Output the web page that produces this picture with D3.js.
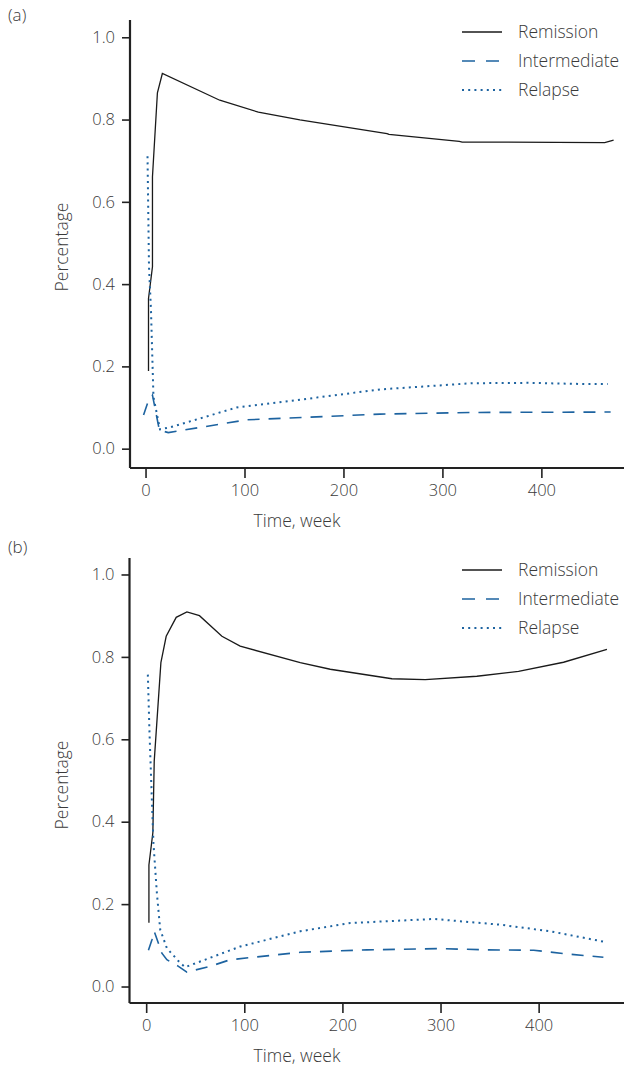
<html>
<head>
<meta charset="utf-8">
<script src="https://cdn.jsdelivr.net/npm/d3@7"></script>
<style>
  body { margin: 0; background: #fff; }
  text { font-family: "Open Sans", "Noto Sans", sans-serif; font-weight: 300; fill: #3a3a3a; }
</style>
</head>
<body>
<svg width="624" height="1068"></svg>
<script>
// series names and tick labels
var seriesNames = ["Remission", "Intermediate", "Relapse"];
var xTicks = [0, 100, 200, 300, 400];
var yTicks = [0.0, 0.2, 0.4, 0.6, 0.8, 1.0];

// panel (a)
var aRemT = [3, 3, 7, 7, 12, 17, 75, 114, 156, 244, 246, 317, 320, 366, 464, 473];
var aRemV = [0.189, 0.365, 0.442, 0.661, 0.865, 0.912, 0.847, 0.818, 0.799, 0.766, 0.764, 0.747, 0.745, 0.745, 0.744, 0.750];
var aIntT = [-2, 2, 7, 14, 23, 102, 237, 329, 470];
var aIntV = [0.082, 0.110, 0.130, 0.045, 0.039, 0.070, 0.084, 0.088, 0.089];
var aRelT = [2, 3.5, 5.5, 8, 14.6, 25, 92, 153, 237, 329, 386, 446, 467];
var aRelV = [0.711, 0.442, 0.337, 0.126, 0.047, 0.052, 0.100, 0.118, 0.144, 0.159, 0.160, 0.157, 0.157];

// panel (b)
var bRemT = [2.8, 2.8, 6.8, 8.2, 15, 20.4, 30.6, 41.5, 54.3, 77.2, 95.8, 157, 187.6, 250.5, 284.4, 337, 379.5, 425.4, 469.6];
var bRemV = [0.155, 0.295, 0.373, 0.547, 0.786, 0.850, 0.896, 0.909, 0.900, 0.850, 0.826, 0.786, 0.770, 0.747, 0.745, 0.753, 0.765, 0.787, 0.818];
var bIntT = [2.3, 5.8, 8.2, 16, 21.1, 32.9, 41.5, 65.2, 85.6, 157, 225, 299.7, 347, 395, 429, 466];
var bIntV = [0.088, 0.113, 0.134, 0.081, 0.065, 0.049, 0.035, 0.049, 0.065, 0.083, 0.089, 0.092, 0.089, 0.088, 0.079, 0.071];
var bRelT = [1.7, 3.4, 5.8, 7.4, 10.9, 14.3, 21.1, 34.7, 39.8, 95.8, 157, 208, 293, 361, 412, 466];
var bRelV = [0.757, 0.615, 0.453, 0.348, 0.227, 0.138, 0.093, 0.057, 0.047, 0.097, 0.134, 0.154, 0.164, 0.150, 0.134, 0.109];

var svg = d3.select("svg");
var blue = "#1d63a0";
var styles = [
  {stroke: "#1a1a1a", width: 1.3, dash: null},
  {stroke: blue, width: 1.6, dash: "12,9"},
  {stroke: blue, width: 2, dash: "2,4.2"}
];

function zip(t, v) {
  return t.map(function(d, i) { return [d, v[i]]; });
}

function panel(label, top, series, xr, yr, yd, xd) {
  var x = d3.scaleLinear().domain(xd).range(xr);
  var y = d3.scaleLinear().domain(yd).range(yr);
  var g = svg.append("g");

  g.append("text").attr("x", 8).attr("y", top + 7).attr("font-size", 17).text(label);

  var line = d3.line().x(function(d) { return x(d[0]); }).y(function(d) { return y(d[1]); });
  series.forEach(function(s, i) {
    g.append("path").attr("d", line(s)).attr("fill", "none")
      .attr("stroke", styles[i].stroke).attr("stroke-width", styles[i].width)
      .attr("stroke-dasharray", styles[i].dash);
  });

  // axes
  var ya = g.append("g").attr("transform", "translate(" + xr[0] + ",0)")
    .call(d3.axisLeft(y).tickValues(yTicks).tickFormat(d3.format(".1f")).tickSize(8).tickPadding(7));
  var xa = g.append("g").attr("transform", "translate(0," + yr[0] + ")")
    .call(d3.axisBottom(x).tickValues(xTicks).tickSize(10).tickPadding(6));
  [ya, xa].forEach(function(a) {
    a.select(".domain").attr("stroke", "#222").attr("stroke-width", 2.2);
    a.selectAll(".tick line").attr("stroke", "#222").attr("stroke-width", 1.6);
    a.selectAll(".tick text").attr("font-size", 16.5).attr("fill", "#3a3a3a");
  });
  // keep axis lines straight, no outer ticks
  ya.select(".domain").attr("d", "M0," + yr[0] + "V" + yr[1]);
  xa.select(".domain").attr("d", "M" + xr[0] + ",0H" + xr[1]);

  g.append("text").attr("x", 297).attr("y", yr[0] + 59).attr("text-anchor", "middle")
    .attr("font-size", 17.5).text("Time, week");
  g.append("text").attr("transform", "translate(68," + (yr[1] + 227) + ") rotate(-90)")
    .attr("text-anchor", "middle").attr("font-size", 17.5).text("Percentage");

  // legend
  seriesNames.forEach(function(n, i) {
    var ly = yr[1] + 12 + i * 29;
    g.append("line").attr("x1", 462).attr("x2", 502).attr("y1", ly).attr("y2", ly)
      .attr("stroke", styles[i].stroke).attr("stroke-width", styles[i].width)
      .attr("stroke-dasharray", i === 1 ? "13,11" : styles[i].dash);
    g.append("text").attr("x", 518).attr("y", ly + 6).attr("font-size", 17.5).text(n);
  });
}

panel("(a)", 14, [zip(aRemT, aRemV), zip(aIntT, aIntV), zip(aRelT, aRelV)],
  [130, 624], [468, 20], [-0.047, 1.042], [-15.7, 483.5]);
panel("(b)", 546, [zip(bRemT, bRemV), zip(bIntT, bIntV), zip(bRelT, bRelV)],
  [129.5, 624], [1003, 558], [-0.04, 1.04], [-17, 487]);
</script>
</body>
</html>
